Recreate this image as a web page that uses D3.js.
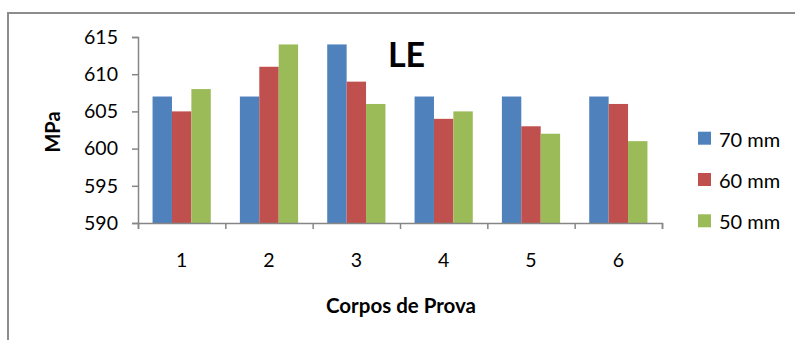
<!DOCTYPE html>
<html><head><meta charset="utf-8">
<script src="https://cdn.jsdelivr.net/npm/d3@7"></script>
<style>html,body{margin:0;padding:0;background:#fff;}svg{display:block;font-family:Lato,"Open Sans",sans-serif;}</style>
</head><body>
<svg id="c" width="795" height="340"></svg>
<script>
const categories = ["1","2","3","4","5","6"];
const seriesNames = ["70 mm","60 mm","50 mm"];
const values70 = [607,607,614,607,607,607];
const values60 = [605,611,609,604,603,606];
const values50 = [608,614,606,605,602,601];
const yTicks = [590,595,600,605,610,615];
const colors = ["#4F81BD","#C0504D","#9BBB59"];
const seriesValues = [values70, values60, values50];

const svg = d3.select("#c");
const L = 138, R = 662, T = 37, B = 223;

// outer frame (left + top)
svg.append("path").attr("d","M8,340 V13 H795").attr("fill","none").attr("stroke","#8c8c8c").attr("stroke-width",2);

const x = d3.scaleBand().domain(categories).range([L,R]).padding(0);
const step = x.bandwidth();
const x1 = d3.scaleBand().domain(seriesNames).range([step/6, step*5/6]).padding(0);
const y = d3.scaleLinear().domain([590,615]).range([B,T]);

// bars
const g = svg.append("g");
categories.forEach((c,i)=>{
  seriesNames.forEach((s,j)=>{
    const v = seriesValues[j][i];
    g.append("rect")
      .attr("x", x(c)+x1(s))
      .attr("y", y(v))
      .attr("width", x1.bandwidth())
      .attr("height", y(590)-y(v))
      .attr("fill", colors[j]);
  });
});

// y axis
const ya = svg.append("g").attr("transform",`translate(${L},0)`)
  .call(d3.axisLeft(y).tickValues(yTicks).tickSize(6).tickPadding(14).tickFormat(d3.format("d")));
ya.select(".domain").attr("stroke","#868686").attr("stroke-width",1.5);
ya.selectAll(".tick line").attr("stroke","#868686").attr("stroke-width",1.5);
ya.selectAll("text").attr("font-size",19.5).attr("fill","#000").attr("font-family","Lato");

// x axis boundary ticks
const xb = d3.scaleLinear().domain([0,categories.length]).range([L,R]);
const xa = svg.append("g").attr("transform",`translate(0,${B})`)
  .call(d3.axisBottom(xb).tickValues(d3.range(categories.length+1)).tickSize(6).tickFormat(""));
xa.select(".domain").attr("stroke","#868686").attr("stroke-width",1.5);
xa.selectAll(".tick line").attr("stroke","#868686").attr("stroke-width",1.5);

// x category labels
const xl = svg.append("g").attr("transform",`translate(0,${B})`)
  .call(d3.axisBottom(x).tickSize(0).tickPadding(30));
xl.select(".domain").remove();
xl.selectAll("text").attr("font-size",19.5).attr("fill","#000").attr("font-family","Lato");

// axis titles
svg.append("text").attr("x",401).attr("y",313).attr("text-anchor","middle")
  .attr("font-weight","bold").attr("font-size",20.5).text("Corpos de Prova");
svg.append("text").attr("transform","translate(60,132) rotate(-90)").attr("text-anchor","middle")
  .attr("font-weight","bold").attr("font-size",20).text("MPa");

// title
svg.append("text").attr("x",406.5).attr("y",67).attr("text-anchor","middle")
  .attr("font-weight","bold").attr("font-size",34).text("LE");

// legend
const lg = svg.append("g");
seriesNames.forEach((s,j)=>{
  const yy = 131.7 + j*41.3;
  lg.append("rect").attr("x",698).attr("y",yy).attr("width",13).attr("height",13).attr("fill",colors[j]);
  lg.append("text").attr("x",719).attr("y",yy+15).attr("font-size",20).attr("fill","#000").text(s);
});
</script>
</body></html>
